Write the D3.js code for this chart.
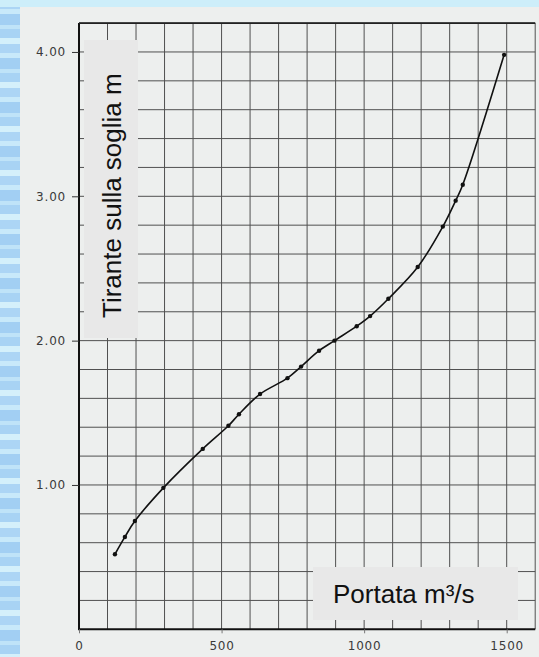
<!DOCTYPE html>
<html>
<head>
<meta charset="utf-8">
<script src="https://cdn.jsdelivr.net/npm/d3@7/dist/d3.min.js"></script>
<style>
    body { margin: 0; background: #a9d3f4; }
    svg { display: block; }
    .tick-label { font-family: 'DejaVu Sans', sans-serif; font-size: 12px; fill: #3a3a3a; letter-spacing: 0.8px; }
    .box-label { font-family: 'Liberation Sans', Arial, sans-serif; font-size: 26px; fill: #111; }
</style>
</head>
<body>
<svg class="chart"></svg>
<script>
// rating curve
const portata = [126, 161, 196, 296, 434, 524, 561, 635, 731, 779, 842, 896, 974, 1021, 1085, 1188, 1276, 1321, 1346, 1491]
const tirante = [0.52, 0.64, 0.75, 0.98, 1.25, 1.41, 1.49, 1.63, 1.74, 1.82, 1.93, 2.00, 2.10, 2.17, 2.29, 2.51, 2.79, 2.97, 3.08, 3.98]

const xTickValues = [0, 500, 1000, 1500]
const yTickValues = [1, 2, 3, 4]

const yTitle = 'Tirante sulla soglia m'
const xTitle = 'Portata m³/s'

const width = 539
const height = 657

const x = d3.scaleLinear().domain([0, 1600]).range([79, 535.2])
const y = d3.scaleLinear().domain([0, 4.2]).range([629.3, 23.1])

const drawBackground = svg => {

    // slide background: soft horizontal stripes
    const stripes = [
        ['#acd5f5', 9], ['#c8e9fa', 5], ['#a2cff3', 11],
        ['#bfe3f8', 4], ['#a8d3f4', 9], ['#d4f0fb', 6]
    ]
    const pattern = svg.append('defs').append('pattern')
        .attr('id', 'bg-stripes')
        .attr('patternUnits', 'userSpaceOnUse')
        .attr('width', 40)
        .attr('height', d3.sum(stripes, d => d[1]))

    let offset = 0
    stripes.forEach(([color, h]) => {
        pattern.append('rect')
            .attr('x', 0).attr('y', offset)
            .attr('width', 40).attr('height', h)
            .attr('fill', color)
        offset += h
    })

    svg.append('rect')
        .attr('width', width).attr('height', height)
        .attr('fill', 'url(#bg-stripes)')

    // top band is lighter
    svg.append('rect')
        .attr('width', width).attr('height', 7)
        .attr('fill', '#cdeefa')

    // paper sheet
    svg.append('rect')
        .attr('x', 20).attr('y', 7)
        .attr('width', width - 20).attr('height', height - 7)
        .attr('fill', '#edefee')
}

const drawGrid = svg => {

    const grid = svg.append('g').attr('class', 'grid')

    grid.selectAll('line.v')
            .data(d3.range(100, 1601, 100))
        .enter().append('line')
        .attr('class', 'v')
        .attr('stroke', '#505050')
        .attr('stroke-width', 1)
        .attr('x1', d => x(d)).attr('x2', d => x(d))
        .attr('y1', y(0)).attr('y2', y(4.2))

    grid.selectAll('line.h')
            .data(d3.range(1, 22).map(i => i * 0.2))
        .enter().append('line')
        .attr('class', 'h')
        .attr('stroke', '#505050')
        .attr('stroke-width', 1)
        .attr('x1', x(0)).attr('x2', x(1600))
        .attr('y1', d => y(d)).attr('y2', d => y(d))

    // frame: heavier left and bottom axes
    svg.append('line')
        .attr('stroke', '#111').attr('stroke-width', 2)
        .attr('x1', x(0)).attr('x2', x(0))
        .attr('y1', y(0) + 1).attr('y2', y(4.2))

    svg.append('line')
        .attr('stroke', '#111').attr('stroke-width', 2)
        .attr('x1', x(0)).attr('x2', x(1600))
        .attr('y1', y(0)).attr('y2', y(0))

    svg.append('line')
        .attr('stroke', '#222').attr('stroke-width', 1.6)
        .attr('x1', x(0)).attr('x2', x(1600))
        .attr('y1', y(4.2)).attr('y2', y(4.2))
}

const drawAxes = svg => {

    const yAxis = svg.append('g')
        .attr('transform', `translate(${x(0)},0)`)
        .call(d3.axisLeft(y)
            .tickValues(yTickValues)
            .tickFormat(d3.format('.2f'))
            .tickSize(7)
            .tickPadding(6))

    yAxis.select('.domain').remove()
    yAxis.selectAll('line').attr('stroke', '#333')
    yAxis.selectAll('text')
        .attr('class', 'tick-label')
        .attr('fill', null)
        .attr('font-family', null).attr('font-size', null)

    const xAxis = svg.append('g')
        .attr('transform', `translate(0,${y(0)})`)
        .call(d3.axisBottom(x)
            .tickValues(xTickValues)
            .tickFormat(d3.format('d'))
            .tickSize(4)
            .tickPadding(8))

    xAxis.select('.domain').remove()
    xAxis.selectAll('line').attr('stroke', '#777')
    xAxis.selectAll('text')
        .attr('class', 'tick-label')
        .attr('fill', null)
        .attr('font-family', null).attr('font-size', null)
}

const drawCurve = svg => {

    const points = portata.map((q, i) => [q, tirante[i]])

    const line = d3.line()
        .x(d => x(d[0]))
        .y(d => y(d[1]))
        .curve(d3.curveCatmullRom.alpha(0.5))

    svg.append('path')
        .datum(points)
        .attr('fill', 'none')
        .attr('stroke', '#111')
        .attr('stroke-width', 1.6)
        .attr('d', line)

    svg.selectAll('circle.pt')
            .data(points)
        .enter().append('circle')
        .attr('class', 'pt')
        .attr('cx', d => x(d[0]))
        .attr('cy', d => y(d[1]))
        .attr('r', 2.2)
        .attr('fill', '#111')
}

const drawTitles = svg => {

    // y title box
    svg.append('rect')
        .attr('x', 84).attr('y', 40)
        .attr('width', 54).attr('height', 298)
        .attr('fill', '#e8e8e8')

    svg.append('text')
        .text(yTitle)
        .attr('class', 'box-label')
        .attr('transform', 'translate(121,318) rotate(-90)')

    // x title box
    svg.append('rect')
        .attr('x', 313).attr('y', 567)
        .attr('width', 205).attr('height', 53)
        .attr('fill', '#e8e8e8')

    svg.append('text')
        .text(xTitle)
        .attr('class', 'box-label')
        .attr('x', 333)
        .attr('y', 603)
}

const svg = d3.select('.chart')
    .attr('width', width)
    .attr('height', height)

drawBackground(svg)
drawGrid(svg)
drawAxes(svg)
drawCurve(svg)
drawTitles(svg)
</script>
</body>
</html>
